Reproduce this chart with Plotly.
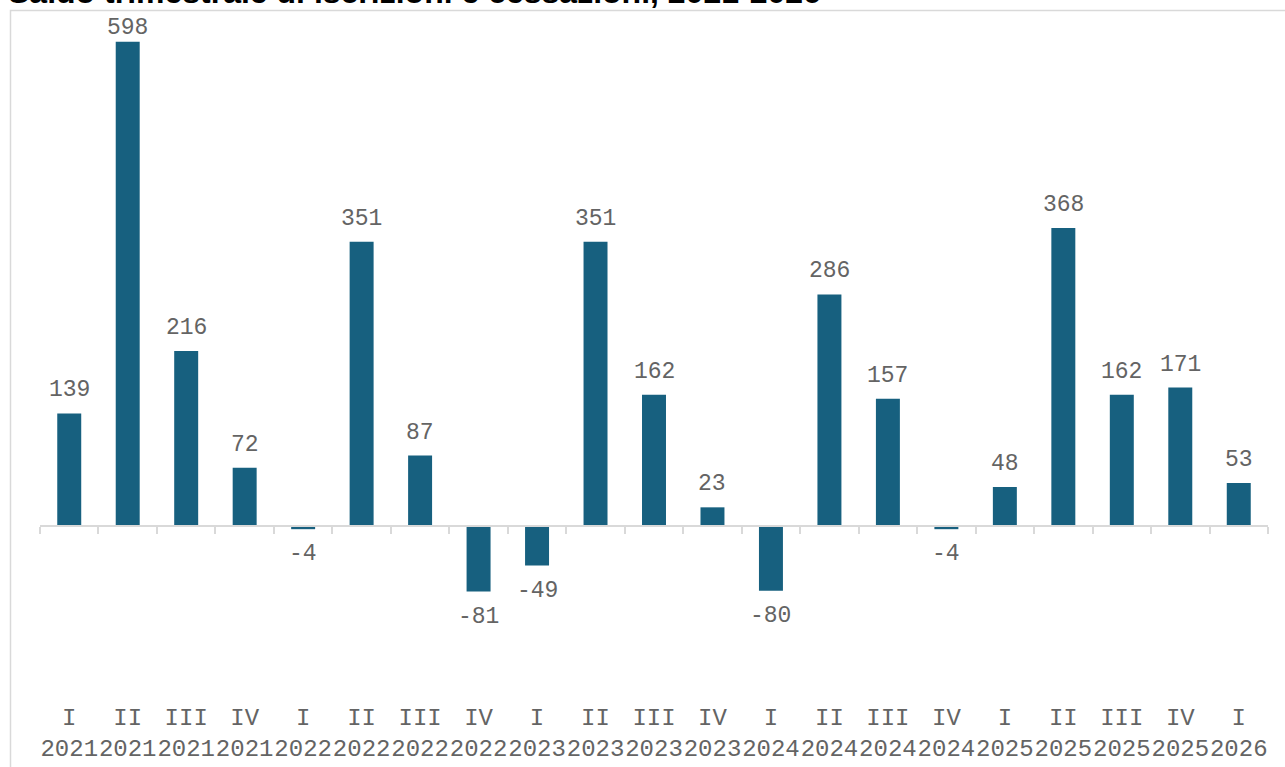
import plotly.graph_objects as go

# Quarterly balance of registrations minus closures
quarters = ["I", "II", "III", "IV", "I", "II", "III", "IV", "I", "II", "III", "IV",
            "I", "II", "III", "IV", "I", "II", "III", "IV", "I"]
years = ["2021", "2021", "2021", "2021", "2022", "2022", "2022", "2022",
         "2023", "2023", "2023", "2023", "2024", "2024", "2024", "2024",
         "2025", "2025", "2025", "2025", "2026"]
saldo = [139, 598, 216, 72, -4, 351, 87, -81, -49, 351, 162, 23,
         -80, 286, 157, -4, 48, 368, 162, 171, 53]

title_text = "Saldo trimestrale di iscrizioni e cessazioni, 2021-2026"

categories = [f"{q}<br>{y}" for q, y in zip(quarters, years)]
n = len(categories)

W, H = 1285, 767
ML, MR, MT, MB = 40, 17, 20, 67
y_min, y_max = -215, 625

bar_color = "#17607F"
text_gray = "#646464"
frame_gray = "#D9D9D9"
mono = "Courier New, Liberation Mono, monospace"

plot_w = W - ML - MR
plot_h = H - MT - MB


def px_to_paper_x(px):
    return (px - ML) / plot_w


def px_to_paper_y(py):
    return (H - MB - py) / plot_h


fig = go.Figure()
fig.add_trace(go.Bar(
    x=list(range(n)),
    y=saldo,
    width=0.41,
    marker=dict(color=bar_color, line=dict(width=0)),
    cliponaxis=False,
    hoverinfo="x+y",
))

# value labels: offset above positive bars / below negative bars,
# but never closer than label_top_min px to the top of the figure
label_gap_pos, label_gap_neg, label_top_min = 23, 25, 28
px_per_unit = plot_h / (y_max - y_min)
value_labels = []
for i, v in enumerate(saldo):
    if v >= 0:
        bar_top_px = MT + (y_max - v) * px_per_unit
        shift = min(label_gap_pos, bar_top_px - label_top_min)
    else:
        shift = -label_gap_neg
    value_labels.append(dict(
        x=i, y=v, xref="x", yref="y",
        text=str(v), showarrow=False,
        xanchor="center", yanchor="middle", yshift=shift,
        font=dict(family=mono, size=23, color=text_gray),
    ))

# horizontal zero axis with boundary tick marks
zero_pos = (0 - y_min) / (y_max - y_min)

fig.update_layout(
    width=W, height=H,
    margin=dict(l=ML, r=MR, t=MT, b=MB, pad=0, autoexpand=False),
    paper_bgcolor="white",
    plot_bgcolor="white",
    showlegend=False,
    xaxis=dict(
        range=[-0.5, n - 0.5],
        tickmode="array",
        tickvals=list(range(n)),
        ticktext=categories,
        tickangle=0,
        showline=False, showgrid=False, zeroline=False,
        ticks="",
        automargin=False,
        tickfont=dict(family=mono, size=24, color=text_gray),
    ),
    xaxis2=dict(
        overlaying="x",
        anchor="free",
        position=zero_pos,
        side="bottom",
        range=[-0.5, n - 0.5],
        tickmode="array",
        tickvals=[i - 0.5 for i in range(n + 1)],
        showticklabels=False,
        showgrid=False, zeroline=False,
        automargin=False,
        showline=True, linecolor=frame_gray, linewidth=2,
        ticks="outside", ticklen=7, tickwidth=2, tickcolor=frame_gray,
    ),
    yaxis=dict(
        range=[y_min, y_max],
        visible=False,
        automargin=False,
        showgrid=False, zeroline=False,
    ),
    shapes=[
        dict(
            type="rect", xref="paper", yref="paper",
            x0=px_to_paper_x(10.5), x1=px_to_paper_x(W + 20),
            y0=px_to_paper_y(H + 20), y1=px_to_paper_y(10.5),
            line=dict(color=frame_gray, width=1.5),
            fillcolor="rgba(0,0,0,0)",
            layer="below",
        )
    ],
    annotations=value_labels + [
        dict(
            text=f"<b>{title_text}</b>",
            xref="paper", yref="paper",
            x=px_to_paper_x(6), y=px_to_paper_y(12),
            xanchor="left", yanchor="bottom",
            showarrow=False,
            font=dict(family="Arial, Liberation Sans, sans-serif", size=32, color="black"),
        )
    ],
)

# placeholder trace so the zero axis is drawn
fig.add_trace(go.Scatter(x=[None], y=[None], xaxis="x2", yaxis="y",
                         showlegend=False, hoverinfo="skip"))

fig.write_html("out.html")
